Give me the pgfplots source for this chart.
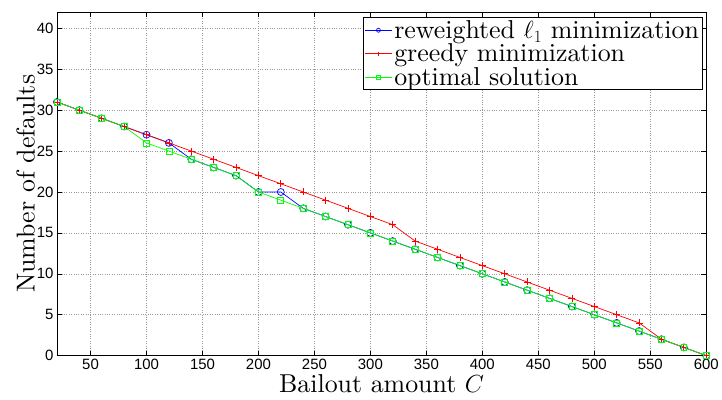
\documentclass[border=0pt]{standalone}
\usepackage{fontspec}
\setmainfont{lmroman10-regular.otf}[ItalicFont=lmroman10-italic.otf, BoldFont=lmroman10-bold.otf]
\newfontfamily\ticksf{Liberation Sans}
\usepackage{pgfplots}
\pgfplotsset{compat=1.18}
\begin{document}
\begin{tikzpicture}
\begin{axis}[
  scale only axis,
  width=650bp, height=344bp,
  xmin=20, xmax=600, ymin=0, ymax=42,
  xtick={50,100,...,600},
  ytick={0,5,...,40},
  tick align=inside,
  major tick length=5bp,
  grid=major,
  major grid style={black!40, dotted, line width=0.6pt},
  axis line style={line width=0.8pt},
  every tick/.style={black, line width=0.6pt},
  /pgf/number format/assume math mode=true,
  tick label style={font=\ticksf\fontsize{15}{18}\selectfont},
  xlabel={Bailout amount $C$},
  ylabel={Number of defaults},
  label style={font=\fontsize{26}{28}\selectfont},
  xlabel style={yshift=2bp},
  ylabel style={yshift=-5bp},
  legend style={at={(0.994,0.985)}, anchor=north east, font=\fontsize{26}{26}\selectfont,
    draw=black, line width=0.8pt, inner sep=1pt, row sep=0pt},
  legend cell align=left,
  legend image code/.code={\draw[#1] (0cm,0cm) -- (0.95cm,0cm); \draw[#1, mark size=2pt] plot coordinates {(0.475cm,0cm)};},
]
\addplot[blue, line width=0.7pt, mark=o, mark size=3.5pt] coordinates {
(20,31)(40,30)(60,29)(80,28)(100,27)(120,26)(140,24)(160,23)(180,22)(200,20)
(220,20)(240,18)(260,17)(280,16)(300,15)(320,14)(340,13)(360,12)(380,11)(400,10)
(420,9)(440,8)(460,7)(480,6)(500,5)(520,4)(540,3)(560,2)(580,1)(600,0)};
\addlegendentry{reweighted $\ell_1$ minimization}
\addplot[red, line width=0.7pt, mark=+, mark size=3.5pt] coordinates {
(20,31)(40,30)(60,29)(80,28)(100,27)(120,26)(140,25)(160,24)(180,23)(200,22)
(220,21)(240,20)(260,19)(280,18)(300,17)(320,16)(340,14)(360,13)(380,12)(400,11)
(420,10)(440,9)(460,8)(480,7)(500,6)(520,5)(540,4)(560,2)(580,1)(600,0)};
\addlegendentry{greedy minimization}
\addplot[green, line width=0.7pt, mark=square, mark size=3pt] coordinates {
(20,31)(40,30)(60,29)(80,28)(100,26)(120,25)(140,24)(160,23)(180,22)(200,20)
(220,19)(240,18)(260,17)(280,16)(300,15)(320,14)(340,13)(360,12)(380,11)(400,10)
(420,9)(440,8)(460,7)(480,6)(500,5)(520,4)(540,3)(560,2)(580,1)(600,0)};
\addlegendentry{optimal solution}
\end{axis}
\path (current axis.south west) ++(-57bp,-44bp);
\path (current axis.north east) ++(15bp,12bp);
\end{tikzpicture}
\end{document}
